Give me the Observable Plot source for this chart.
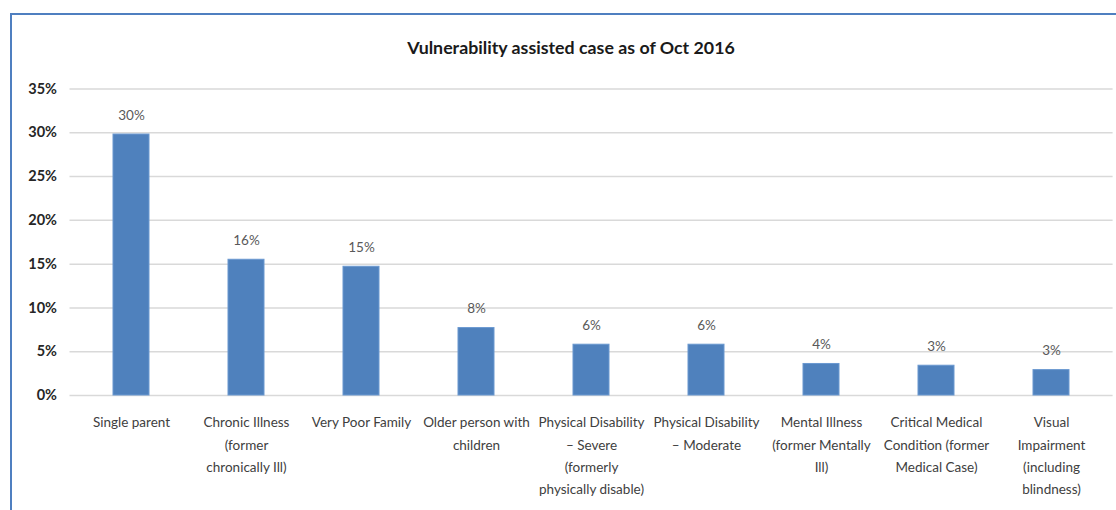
<!DOCTYPE html>
<html>
<head>
<meta charset="utf-8">
<script src="https://cdn.jsdelivr.net/npm/d3@7"></script>
<script src="https://cdn.jsdelivr.net/npm/@observablehq/plot@0.6"></script>
<style>
  html, body { margin: 0; padding: 0; background: #fff; }
  #wrap { position: relative; width: 1116px; height: 510px; overflow: hidden; background: #fff; }
  #frame { position: absolute; left: 10px; top: 13px; width: 1200px; height: 600px;
           border-left: 2px solid #4f7fc0; border-top: 2px solid #4f7fc0; box-sizing: border-box; }
  #title { position: absolute; left: 0; width: 1142px; top: 36px; text-align: center;
           font-family: Lato, "Open Sans", sans-serif; font-weight: bold; font-size: 17.8px; color: #1a1a1a; }
  #chart { position: absolute; left: 0; top: 0; }
</style>
</head>
<body>
<div id="wrap">
  <div id="frame"></div>
  <div id="chart"></div>
  <div id="title">Vulnerability assisted case as of Oct 2016</div>
</div>
<script>
const categories = [
  "Single parent",
  "Chronic Illness\n(former\nchronically Ill)",
  "Very Poor Family",
  "Older person with\nchildren",
  "Physical Disability\n– Severe\n(formerly\nphysically disable)",
  "Physical Disability\n– Moderate",
  "Mental Illness\n(former Mentally\nIll)",
  "Critical Medical\nCondition (former\nMedical Case)",
  "Visual\nImpairment\n(including\nblindness)"
];
const values = [29.8, 15.5, 14.7, 7.7, 5.8, 5.8, 3.6, 3.4, 2.9];
const yTicks = [0, 5, 10, 15, 20, 25, 30, 35];

const data = categories.map((c, i) => ({cat: c, v: values[i]}));
const font = "Lato, 'Open Sans', sans-serif";

const chart = Plot.plot({
  width: 1116,
  height: 510,
  marginLeft: 69.5,
  marginRight: 3.4,
  marginTop: 88.5,
  marginBottom: 115,
  style: {fontFamily: font, background: "transparent", overflow: "visible"},
  x: {domain: categories, paddingInner: 0.686, paddingOuter: 0.343, axis: null},
  y: {domain: [0, 35], axis: null},
  marks: [
    Plot.gridY(yTicks, {stroke: "#d9d9d9", strokeOpacity: 1, strokeWidth: 1.5}),
    Plot.axisY(yTicks, {tickSize: 0, tickPadding: 13, tickFormat: d => d + "%",
      fontSize: 14.5, fontWeight: "bold", fill: "#262626", label: null}),
    Plot.barY(data, {x: "cat", y: "v", fill: "#4f81bd", stroke: "#6a98d0", strokeWidth: 1}),
    Plot.text(data, {x: "cat", y: "v", text: d => Math.round(d.v) + "%", dy: -19,
      fontSize: 13.5, fill: "#595959"}),
    Plot.text(data, {x: "cat", frameAnchor: "bottom", lineAnchor: "top", dy: 16,
      text: "cat", fontSize: 13.5, lineHeight: 1.65, fill: "#404040"})
  ]
});
chart.querySelectorAll('[aria-label="y-axis tick label"] text').forEach(t => t.setAttribute("font-weight", "bold"));
document.getElementById("chart").appendChild(chart);
</script>
</body>
</html>
